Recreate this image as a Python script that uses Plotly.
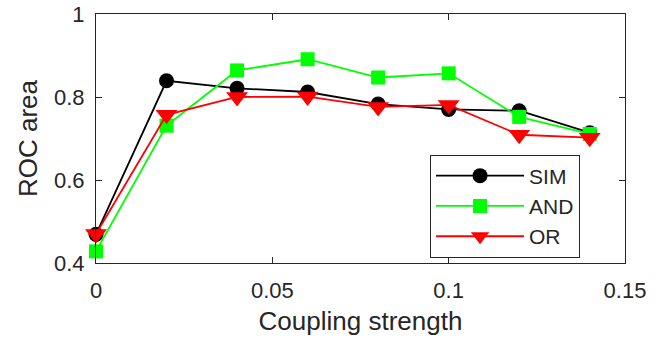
import plotly.graph_objects as go

# Coupling strengths at which each detector was evaluated
coupling = [0, 0.02, 0.04, 0.06, 0.08, 0.10, 0.12, 0.14]

# ROC area per detector
roc_sim = [0.469, 0.839, 0.821, 0.812, 0.783, 0.770, 0.767, 0.714]
roc_and = [0.428, 0.731, 0.864, 0.891, 0.847, 0.857, 0.752, 0.711]
roc_or = [0.470, 0.757, 0.800, 0.801, 0.776, 0.781, 0.709, 0.702]

x_ticks = [0, 0.05, 0.1, 0.15]
x_tick_text = ["0", "0.05", "0.1", "0.15"]
y_ticks = [0.4, 0.6, 0.8, 1.0]
y_tick_text = ["0.4", "0.6", "0.8", "1"]

series = [
    ("SIM", roc_sim, "#000000", "circle", 15),
    ("AND", roc_and, "#00ff00", "square", 14),
    ("OR", roc_or, "#ff0000", "triangle-down", 19),
]

ink = "#262626"
font_family = "Liberation Sans, Arial, sans-serif"

fig = go.Figure()
for name, vals, color, symbol, size in series:
    fig.add_trace(go.Scatter(
        x=coupling, y=vals, name=name, mode="lines+markers",
        line=dict(color=color, width=1.8),
        marker=dict(symbol=symbol, size=size, color=color, line=dict(width=0)),
        cliponaxis=False,
    ))

axis_common = dict(
    showgrid=False, zeroline=False, showline=True, linecolor=ink, linewidth=1,
    mirror="ticks", ticks="inside", ticklen=6, tickcolor=ink, tickwidth=1,
    tickfont=dict(family=font_family, size=22, color=ink),
    automargin=False,
)

fig.update_layout(
    width=662, height=340,
    margin=dict(l=96, r=37, t=14, b=77),
    paper_bgcolor="white", plot_bgcolor="white",
    font=dict(family=font_family, color=ink),
    xaxis=dict(
        range=[0, 0.15], tickvals=x_ticks, ticktext=x_tick_text,
        title=dict(text="Coupling strength", font=dict(size=26, color=ink), standoff=9),
        ticklabelstandoff=8,
        **axis_common,
    ),
    yaxis=dict(
        range=[0.4, 1.0], tickvals=y_ticks, ticktext=y_tick_text,
        title=dict(text="ROC area", font=dict(size=26, color=ink), standoff=8),
        ticklabelstandoff=6,
        **axis_common,
    ),
    legend=dict(
        x=0.915, y=0.022, xanchor="right", yanchor="bottom",
        bgcolor="white", bordercolor=ink, borderwidth=1,
        font=dict(family=font_family, size=21, color=ink),
        tracegroupgap=0, itemwidth=88,
    ),
    showlegend=True,
)

fig.write_html("out.html")
